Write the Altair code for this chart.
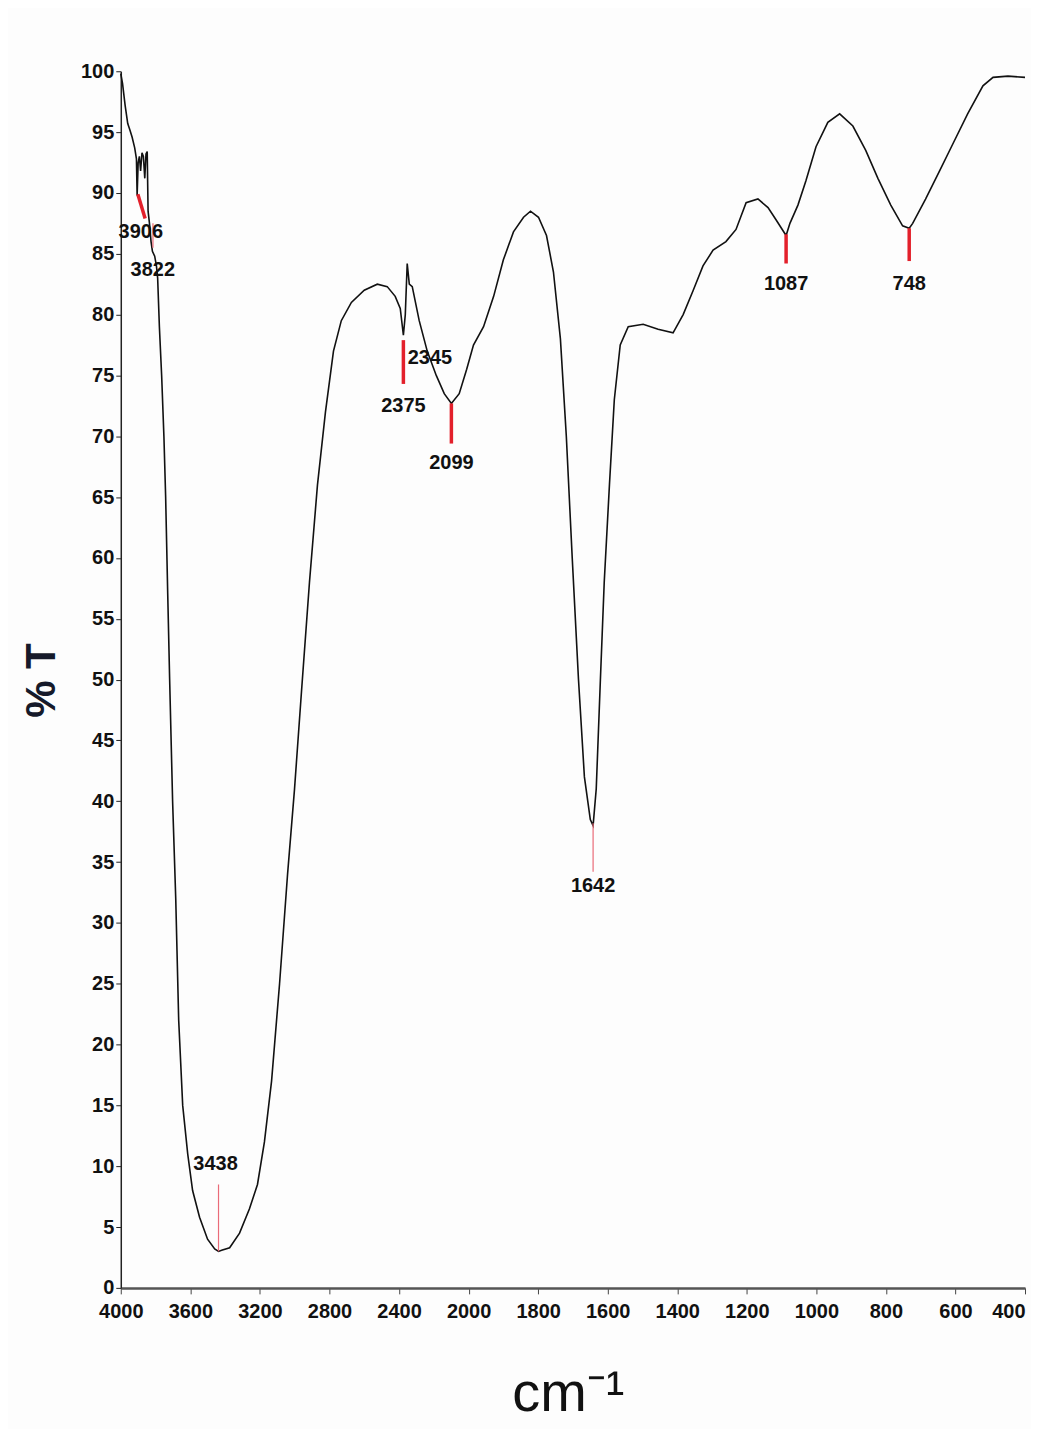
import altair as alt
import pandas as pd

# Spectrum (wavenumber cm-1, %T)
wavenumber = [4000, 3990, 3975, 3960, 3948, 3935, 3920, 3910, 3906, 3900, 3893, 3886, 3878, 3870,
              3862, 3855, 3848, 3843, 3835, 3826, 3818, 3805, 3795, 3788, 3778, 3765, 3752, 3742,
              3730, 3719, 3702, 3684, 3667, 3644, 3615, 3587, 3547, 3501, 3460, 3438, 3420, 3374,
              3317, 3260, 3214, 3174, 3133, 3087, 3041, 3001, 2961, 2915, 2869, 2823, 2777, 2732,
              2674, 2600, 2525, 2468, 2422, 2393, 2375, 2364, 2353, 2341, 2324, 2284, 2238, 2186,
              2140, 2099, 2054, 2011, 1986, 1957, 1928, 1900, 1871, 1842, 1822, 1799, 1776, 1756,
              1736, 1719, 1702, 1684, 1667, 1650, 1642, 1633, 1621, 1610, 1595, 1581, 1564, 1541,
              1498, 1455, 1412, 1383, 1354, 1326, 1297, 1260, 1231, 1202, 1168, 1139, 1116, 1087,
              1076, 1053, 1030, 1001, 967, 933, 895, 858, 823, 786, 752, 733, 723, 686, 646, 608,
              565, 521, 492, 449, 400]
transmittance = [99.8, 99.0, 97.2, 95.7, 95.2, 94.6, 93.7, 92.8, 89.8, 92.5, 93.0, 91.8, 93.3, 93.0,
                 91.2, 93.2, 93.4, 88.5, 87.5, 86.0, 85.2, 84.8, 84.0, 83.0, 79.0, 75.0, 70.0, 65.0,
                 57.0, 50.0, 40.0, 32.0, 22.0, 15.0, 11.0, 8.0, 5.8, 4.0, 3.2, 3.0, 3.1, 3.3,
                 4.5, 6.5, 8.5, 12.0, 17.0, 25.0, 34.0, 41.0, 49.0, 58.0, 66.0, 72.0, 77.0, 79.5,
                 81.0, 82.0, 82.5, 82.3, 81.5, 80.5, 78.3, 80.0, 84.2, 82.5, 82.3, 79.5, 77.0, 75.0,
                 73.5, 72.7, 73.5, 75.5, 77.5, 79.0, 81.5, 84.5, 86.8, 88.0, 88.5, 88.0, 86.5, 83.5,
                 78.0, 70.0, 60.0, 50.0, 42.0, 38.5, 38.0, 41.0, 50.0, 58.0, 66.0, 73.0, 77.5, 79.0,
                 79.2, 78.8, 78.5, 80.0, 82.0, 84.0, 85.3, 86.0, 87.0, 89.2, 89.5, 88.8, 87.8, 86.5,
                 87.5, 89.0, 91.0, 93.8, 95.8, 96.5, 95.5, 93.5, 91.2, 89.0, 87.3, 87.1, 87.5, 89.5,
                 91.8, 94.0, 96.5, 98.8, 99.5, 99.6, 99.5]

# Peak labels
peak_labels = ["3906", "3822", "3438", "2375", "2345", "2099", "1642", "1087", "748"]
peak_label_x = [3885, 3816, 3455, 2375, 2350, 2099, 1642, 1087, 733]
peak_label_y = [86.8, 83.7, 10.2, 72.5, 76.4, 67.8, 33.0, 82.5, 82.5]
peak_align = ["center", "center", "center", "center", "left", "center", "center", "center", "center"]

# Peak marker lines
mark_x1 = [3902, 2375, 2099, 1087, 733, 3438, 1642, 3815]
mark_x2 = [3860, 2375, 2099, 1087, 733, 3438, 1642, 3815]
mark_y1 = [89.9, 77.9, 72.7, 86.6, 87.1, 8.5, 38.2, 87.5]
mark_y2 = [87.9, 74.3, 69.4, 84.2, 84.4, 3.0, 34.2, 85.5]
mark_kind = ["thick", "thick", "thick", "thick", "thick", "thin", "thin", "thin"]

x_ticks = [4000, 3600, 3200, 2800, 2400, 2000, 1800, 1600, 1400, 1200, 1000, 800, 600, 400]
y_ticks = list(range(0, 101, 5))

spec = pd.DataFrame({"wn": wavenumber, "T": transmittance})
labels = pd.DataFrame({"lab": peak_labels, "x": peak_label_x, "y": peak_label_y, "al": peak_align})
marks = pd.DataFrame({"x": mark_x1, "x2": mark_x2, "y": mark_y1, "y2": mark_y2, "kind": mark_kind})

W, H = 906, 1219
xscale = alt.Scale(domain=[4000, 2000, 400], range=[0, 348.5, W], zero=False, nice=False)
yscale = alt.Scale(domain=[0, 100], zero=False, nice=False)

FONT = "Liberation Sans, Arial, sans-serif"

line = alt.Chart(spec).mark_line(color="#111111", strokeWidth=1.6, interpolate="linear").encode(
    x=alt.X("wn:Q", scale=xscale,
            axis=alt.Axis(values=x_ticks, title="cm⁻¹", format="d", grid=False,
                          labelFont=FONT, labelFontSize=20, labelFontWeight="bold", labelColor="#111",
                          labelPadding=8, tickSize=6, tickColor="#444", domainColor="#555",
                          domainWidth=2.5, labelFlush=False,
                          labelAlign=alt.expr("datum.value == 400 ? 'right' : 'center'"),
                          titleFont="Liberation Sans, sans-serif", titleFontSize=56,
                          titleFontWeight="normal", titleColor="#111",
                          titleX=448, titleY=106, titleBaseline="middle")),
    y=alt.Y("T:Q", scale=yscale,
            axis=alt.Axis(values=y_ticks, title="% T", grid=False,
                          labelFont=FONT, labelFontSize=20, labelFontWeight="bold", labelColor="#111",
                          labelPadding=2, tickSize=5, tickColor="#222", domainColor="#222",
                          domainWidth=1.5,
                          titleFont="Liberation Sans, DejaVu Sans, sans-serif", titleFontSize=42,
                          titleFontWeight="bold", titleColor="#161a2a",
                          titleX=-79, titleY=610, titleBaseline="middle", titleAngle=270)),
)

rules = alt.Chart(marks).mark_rule().encode(
    x=alt.X("x:Q", scale=xscale),
    x2="x2:Q",
    y=alt.Y("y:Q", scale=yscale),
    y2="y2:Q",
    color=alt.Color("kind:N", scale=alt.Scale(domain=["thick", "thin"], range=["#e3202b", "#ea6b78"]),
                    legend=None),
    strokeWidth=alt.StrokeWidth("kind:N", scale=alt.Scale(domain=["thick", "thin"], range=[3.5, 1.2]),
                                legend=None),
)

text_c = alt.Chart(labels[labels["al"] == "center"]).mark_text(
    font=FONT, fontSize=20, fontWeight="bold", color="#111", align="center", baseline="middle"
).encode(x=alt.X("x:Q", scale=xscale), y=alt.Y("y:Q", scale=yscale), text="lab:N")

text_l = alt.Chart(labels[labels["al"] == "left"]).mark_text(
    font=FONT, fontSize=20, fontWeight="bold", color="#111", align="left", baseline="middle"
).encode(x=alt.X("x:Q", scale=xscale), y=alt.Y("y:Q", scale=yscale), text="lab:N")

chart = alt.layer(line, rules, text_c, text_l).properties(
    width=W, height=H,
    autosize=alt.AutoSizeParams(type="none"),
    padding={"left": 113, "top": 62, "right": 6, "bottom": 140},
    background="#fdfdfd",
).configure_view(stroke=None)

chart.save("out.html", embed_options={"renderer": "svg", "actions": False})
